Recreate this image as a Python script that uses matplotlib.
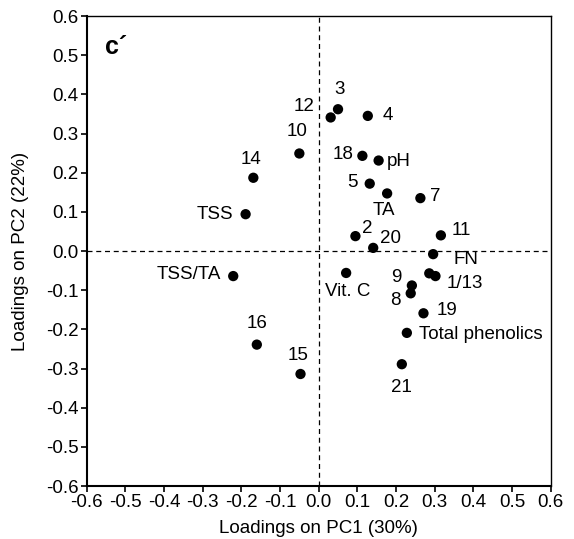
import matplotlib.pyplot as plt

plt.rcParams['font.family'] = ['Liberation Sans', 'DejaVu Sans']
plt.rcParams['axes.unicode_minus'] = False

# loadings
labels = ["14", "TSS", "10", "12", "3", "4", "18", "pH", "5", "TA", "7",
          "2", "20", "11", "FN", "TSS/TA", "16", "Vit. C", "9", "8",
          "1/13a", "1/13", "19", "Total phenolics", "21", "15"]
pc1 = [-0.169, -0.189, -0.050, 0.031, 0.050, 0.127, 0.113, 0.155, 0.132, 0.177, 0.263,
       0.095, 0.141, 0.316, 0.296, -0.221, -0.160, 0.071, 0.241, 0.238,
       0.286, 0.302, 0.271, 0.228, 0.215, -0.047]
pc2 = [0.187, 0.094, 0.249, 0.341, 0.362, 0.345, 0.243, 0.231, 0.172, 0.147, 0.135,
       0.038, 0.008, 0.040, -0.008, -0.064, -0.239, -0.056, -0.088, -0.108,
       -0.057, -0.064, -0.159, -0.209, -0.289, -0.314]

# label placement: (dx px, dy px, ha)
offsets = {
    "14": (-2, 18, "center"), "TSS": (-12, 0, "right"), "10": (-2, 22, "center"),
    "12": (-16, 11, "right"), "3": (2, 20, "center"), "4": (15, 0, "left"),
    "18": (-9, 1, "right"), "pH": (8, -1, "left"), "5": (-12, 1, "right"),
    "TA": (-3, -17, "center"), "7": (10, 2, "left"), "2": (12, 8, "center"),
    "20": (17, 9, "center"), "11": (11, 5, "left"), "FN": (20, -5, "left"),
    "TSS/TA": (-12, 2, "right"), "16": (0, 21, "center"), "Vit. C": (2, -19, "center"),
    "9": (-16, 8, "center"), "8": (-15, -7, "center"), "1/13": (11, -7, "left"),
    "19": (13, 3, "left"), "Total phenolics": (12, -2, "left"), "21": (0, -23, "center"),
    "15": (-2, 18, "center"),
}

fs = 13.5

fig = plt.figure(figsize=(5.74, 5.39), dpi=100)
ax = fig.add_axes([0.151, 0.0983, 0.8084, 0.872])

ax.axhline(0, color="black", lw=0.9, ls=(0, (4, 3)), zorder=1)
ax.axvline(0, color="black", lw=0.9, ls=(0, (4, 3)), zorder=1)
ax.scatter(pc1, pc2, s=55, color="black", zorder=3, edgecolors="none")

for name, x, y in zip(labels, pc1, pc2):
    if name not in offsets:
        continue
    dx, dy, ha = offsets[name]
    ax.annotate(name, (x, y), xytext=(dx, dy), textcoords="offset pixels",
                ha=ha, va="center", fontsize=fs)

ax.set_xlim(-0.6, 0.6)
ax.set_ylim(-0.6, 0.6)
ticks = [-0.6, -0.5, -0.4, -0.3, -0.2, -0.1, 0.0, 0.1, 0.2, 0.3, 0.4, 0.5, 0.6]
ax.set_xticks(ticks)
ax.set_yticks(ticks)
ax.set_xticklabels([f"{t:.1f}" for t in ticks])
ax.set_yticklabels([f"{t:.1f}" for t in ticks])
ax.tick_params(direction="out", length=4, width=1.2, labelsize=fs, pad=2)

for side in ["left", "bottom"]:
    ax.spines[side].set_linewidth(1.5)
for side in ["top", "right"]:
    ax.spines[side].set_linewidth(1.0)

ax.set_xlabel("Loadings on PC1 (30%)", fontsize=fs, labelpad=6)
ax.set_ylabel("Loadings on PC2 (22%)", fontsize=fs, labelpad=12)
ax.text(0.04, 0.96, "c\u00b4", transform=ax.transAxes, fontsize=18,
        fontweight="bold", ha="left", va="top")

plt.savefig("out.png", dpi=100)
